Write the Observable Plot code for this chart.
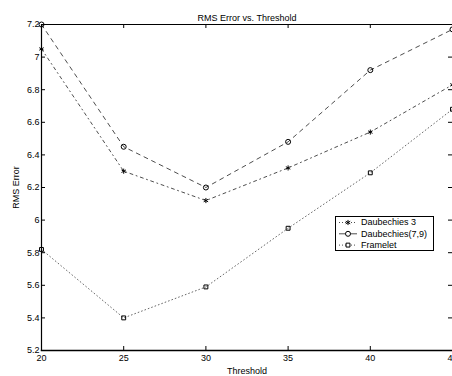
<!DOCTYPE html>
<html><head><meta charset="utf-8">
<script src="https://cdn.jsdelivr.net/npm/d3@7"></script>
<script src="https://cdn.jsdelivr.net/npm/@observablehq/plot@0.6"></script>
<style>
body{margin:0;background:#fff;}
#wrap{position:relative;width:452px;height:376px;overflow:hidden;background:#fff;}
#legend{position:absolute;left:335px;top:216px;}
</style></head><body><div id="wrap"></div>
<script>
const thresholds = [20, 25, 30, 35, 40, 45];
const daub3 = [7.05, 6.30, 6.12, 6.32, 6.54, 6.83];
const daub79 = [7.20, 6.45, 6.20, 6.48, 6.92, 7.17];
const framelet = [5.82, 5.40, 5.59, 5.95, 6.29, 6.68];
const seriesNames = ["Daubechies 3", "Daubechies(7,9)", "Framelet"];
const xTicks = [20, 25, 30, 35, 40, 45];
const xTickLabels = ["20", "25", "30", "35", "40", "45"];
const yTicks = [5.2, 5.4, 5.6, 5.8, 6.0, 6.2, 6.4, 6.6, 6.8, 7.0, 7.2];
const yTickLabels = ["5.2", "5.4", "5.6", "5.8", "6", "6.2", "6.4", "6.6", "6.8", "7", "7.2"];

const series = [
  {name: seriesNames[0], values: daub3, dash: "3,3.5,1,3.5", sw: 0.7, symbol: "asterisk", r: 2.4},
  {name: seriesNames[1], values: daub79, dash: "4,4.5", sw: 0.7, symbol: "circle", r: 2.5},
  {name: seriesNames[2], values: framelet, dash: "0.8,2.8", sw: 0.6, symbol: "square", r: 2.2}
];
const rows = series.map(s => thresholds.map((t, i) => ({x: t, y: s.values[i], name: s.name})));

const W = 452, H = 376, mL = 41, mR = 0, mT = 24, mB = 26;
const fw = W - mL - mR, fh = H - mT - mB;
const tick = 4;
const lookup = (ticks, labels) => d => labels[ticks.findIndex(t => Math.abs(t - d) < 1e-9)] ?? "";

const marks = [
  Plot.frame({stroke: "black", strokeWidth: 1}),
  Plot.frame({anchor: "bottom", stroke: "black", strokeWidth: 1.4}),
  Plot.frame({anchor: "left", stroke: "black", strokeWidth: 1.2}),
  Plot.tickX(xTicks, {x: d => d, insetTop: fh - tick, stroke: "black"}),
  Plot.tickX(xTicks, {x: d => d, insetBottom: fh - tick, stroke: "black"}),
  Plot.tickY(yTicks, {y: d => d, insetRight: fw - tick, stroke: "black"}),
  Plot.tickY(yTicks, {y: d => d, insetLeft: fw - tick, stroke: "black"}),
  Plot.axisX({ticks: xTicks, tickSize: 0, tickPadding: 4, tickFormat: lookup(xTicks, xTickLabels),
    label: "Threshold", labelAnchor: "center", labelArrow: "none", labelOffset: 23}),
  Plot.axisY({ticks: yTicks, tickSize: 0, tickPadding: 2, tickFormat: lookup(yTicks, yTickLabels),
    label: "RMS Error", labelAnchor: "center", labelArrow: "none", labelOffset: 29}),
  Plot.text(["RMS Error vs. Threshold"], {frameAnchor: "top", dy: -10, fontSize: 9})
];
series.forEach((s, k) => {
  marks.push(Plot.line(rows[k], {x: "x", y: "y", stroke: "black", strokeWidth: s.sw, strokeDasharray: s.dash}));
  marks.push(Plot.dot(rows[k], {x: "x", y: "y", symbol: s.symbol, r: s.r, stroke: "black", strokeWidth: 1, fill: "none"}));
});

const chart = Plot.plot({
  width: W, height: H, marginLeft: mL, marginRight: mR, marginTop: mT, marginBottom: mB,
  style: {fontFamily: "'Liberation Sans', Arial, sans-serif", fontSize: "9px", background: "#fff", color: "black"},
  x: {domain: [20, 45]},
  y: {domain: [5.2, 7.2]},
  marks
});
const wrap = document.getElementById("wrap");
wrap.appendChild(chart);

// legend
const lg = d3.select(wrap).append("svg").attr("id", "legend").attr("width", 99).attr("height", 35)
  .style("font-family", "'Liberation Sans', Arial, sans-serif").style("font-size", "9px");
lg.append("rect").attr("x", 0.5).attr("y", 0.5).attr("width", 98).attr("height", 34)
  .attr("fill", "white").attr("stroke", "black");
const legendDash = ["1,2", null, "1,2"];
series.forEach((s, k) => {
  const cy = 6.5 + k * 11.3;
  lg.append("line").attr("x1", 4).attr("x2", 22).attr("y1", cy).attr("y2", cy)
    .attr("stroke", "black").attr("stroke-width", 0.7).attr("stroke-dasharray", legendDash[k]);
  const shape = s.symbol === "circle" ? d3.symbolCircle : s.symbol === "square" ? d3.symbolSquare : d3.symbolAsterisk;
  lg.append("path").attr("d", d3.symbol(shape, s.r * s.r * Math.PI)())
    .attr("transform", `translate(13,${cy})`).attr("fill", "white").attr("stroke", "black");
  lg.append("text").attr("x", 26).attr("y", cy).attr("dy", "0.32em").text(s.name);
});
</script></body></html>
